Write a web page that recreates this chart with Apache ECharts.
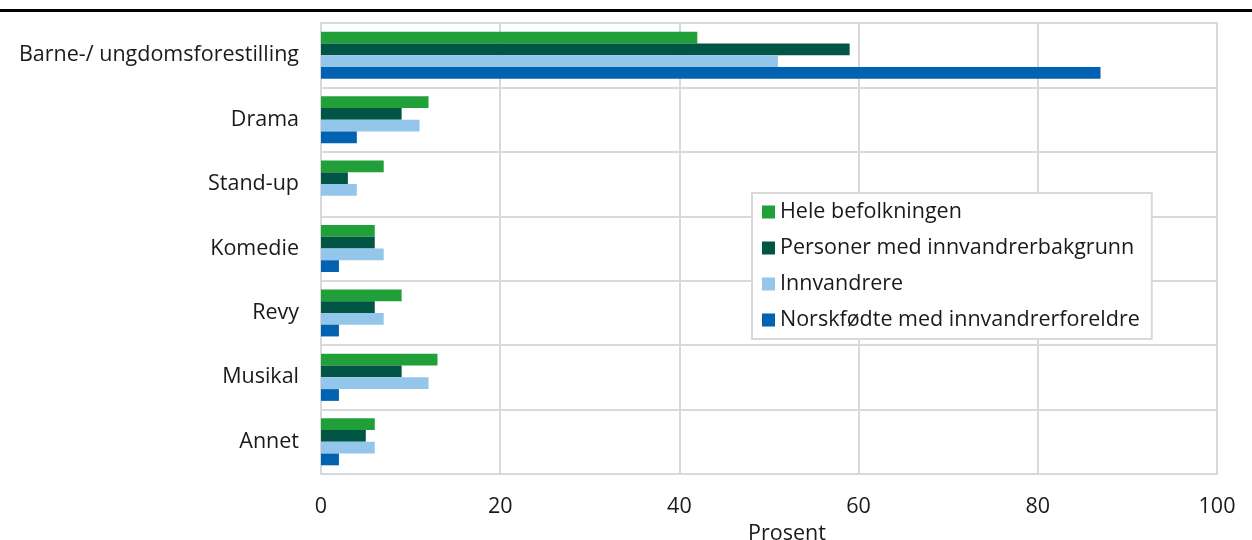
<!DOCTYPE html>
<html>
<head>
<meta charset="utf-8">
<script src="https://cdn.jsdelivr.net/npm/echarts@6/dist/echarts.min.js"></script>
<style>
  html, body { margin: 0; padding: 0; background: #fff; }
  #chart { width: 1252px; height: 540px; }
</style>
</head>
<body>
<div id="chart"></div>
<script>
// kategorier, ovenfra og ned
const categories = ['Barne-/ ungdomsforestilling', 'Drama', 'Stand-up', 'Komedie', 'Revy', 'Musikal', 'Annet']
const seriesNames = ['Hele befolkningen', 'Personer med innvandrerbakgrunn', 'Innvandrere', 'Norskfødte med innvandrerforeldre']
const heleBefolkningen = [42, 12, 7, 6, 9, 13, 6]
const innvandrerbakgrunn = [59, 9, 3, 6, 6, 9, 5]
const innvandrere = [51, 11, 4, 7, 7, 12, 6]
const norskfodte = [87, 4, 0, 2, 2, 2, 2]
const colors = ['#21a03a', '#005545', '#94c6eb', '#0062b0']

const font = "'Open Sans', sans-serif"
const values = [heleBefolkningen, innvandrerbakgrunn, innvandrere, norskfodte]

const chart = echarts.init(document.getElementById('chart'))
chart.setOption({
  animation: false,
  textStyle: { fontFamily: font },
  graphic: [
    { type: 'rect', left: 0, top: 9, shape: { width: 1252, height: 3 }, style: { fill: '#000' } }
  ],
  grid: {
    left: 321, right: 35, top: 23, bottom: 66,
    outerBoundsMode: 'none',
    containLabel: false,
    show: true, borderColor: '#d9d9d9', borderWidth: 2
  },
  legend: {
    orient: 'vertical',
    left: 752, top: 193,
    padding: [8, 12, 8, 10],
    backgroundColor: '#fff',
    borderColor: '#d9d9d9',
    borderWidth: 2,
    itemWidth: 13, itemHeight: 13, itemGap: 14,
    icon: 'rect',
    textStyle: { fontSize: 21.5, color: '#1a1a1a', fontFamily: font },
    data: seriesNames
  },
  xAxis: {
    type: 'value',
    min: 0, max: 100, interval: 20,
    name: 'Prosent',
    nameLocation: 'middle',
    nameGap: 44,
    nameTextStyle: { fontSize: 21.5, color: '#1a1a1a', padding: [0, 0, 0, 36] },
    axisLine: { show: false },
    axisTick: { show: false },
    axisLabel: { fontSize: 21.5, color: '#1a1a1a', margin: 22 },
    splitLine: { lineStyle: { color: '#d9d9d9', width: 2 } }
  },
  yAxis: {
    type: 'category',
    inverse: true,
    data: categories,
    axisLine: { show: false },
    axisTick: { show: false },
    axisLabel: { fontSize: 21.5, color: '#1a1a1a', margin: 22 },
    splitLine: { show: true, lineStyle: { color: '#d9d9d9', width: 2 } }
  },
  series: seriesNames.map((name, i) => ({
    name: name,
    type: 'bar',
    data: values[i],
    barGap: '0%',
    barCategoryGap: '27%',
    itemStyle: { color: colors[i] }
  }))
})
</script>
</body>
</html>
